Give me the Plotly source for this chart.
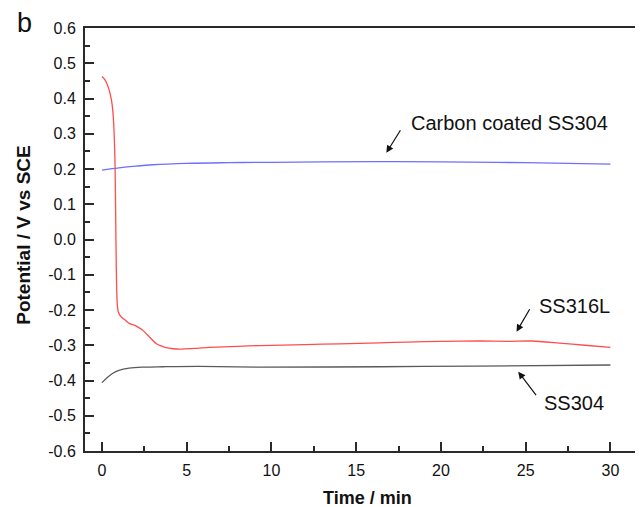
import plotly.graph_objects as go

# --- data ---
t_ss316l = [0, 0.1, 0.25, 0.4, 0.56, 0.65, 0.72, 0.77, 0.8, 0.83, 0.86, 0.9, 0.96, 1.12, 1.35, 1.6, 2.0,
            2.39, 2.79, 3.19, 3.5, 3.78, 4.2, 4.56, 5.5, 6.34, 8.0, 9.29, 12.0, 14.0, 16.4, 18.0, 20.0,
            22.3, 24.0, 25.4, 27.0, 28.5, 30.0]
e_ss316l = [0.462, 0.458, 0.447, 0.428, 0.396, 0.36, 0.30, 0.22, 0.11, -0.02, -0.12, -0.18, -0.205,
            -0.219, -0.228, -0.238, -0.245, -0.257, -0.276, -0.295, -0.302, -0.307, -0.310, -0.311,
            -0.309, -0.306, -0.303, -0.301, -0.298, -0.296, -0.293, -0.291, -0.289, -0.288, -0.289,
            -0.288, -0.294, -0.300, -0.306]

t_ss304 = [0, 0.3, 0.62, 1.0, 1.6, 2.5, 3.58, 5.74, 9.3, 16.4, 22, 30]
e_ss304 = [-0.406, -0.392, -0.380, -0.371, -0.365, -0.362, -0.361, -0.360, -0.362, -0.361, -0.359, -0.356]

t_carbon = [0, 1, 2, 3, 5, 7.5, 10, 13, 16.4, 20, 25, 30]
e_carbon = [0.197, 0.203, 0.208, 0.212, 0.216, 0.218, 0.219, 0.220, 0.221, 0.220, 0.218, 0.214]

x_ticks = [0, 5, 10, 15, 20, 25, 30]
y_ticks = [-0.6, -0.5, -0.4, -0.3, -0.2, -0.1, 0.0, 0.1, 0.2, 0.3, 0.4, 0.5, 0.6]
y_tick_labels = ["-0.6", "-0.5", "-0.4", "-0.3", "-0.2", "-0.1", "0.0", "0.1", "0.2", "0.3", "0.4", "0.5", "0.6"]

FONT = "Liberation Sans, Arial, Helvetica, sans-serif"
AXC = "#2a2a2a"

fig = go.Figure()
fig.add_trace(go.Scatter(x=t_ss304, y=e_ss304, mode="lines", line=dict(color="#5a5a5a", width=1.3, shape="spline"),
                         showlegend=False))
fig.add_trace(go.Scatter(x=t_ss316l, y=e_ss316l, mode="lines", line=dict(color="#ff4d4d", width=1.3, shape="spline", smoothing=0.6),
                         showlegend=False))
fig.add_trace(go.Scatter(x=t_carbon, y=e_carbon, mode="lines", line=dict(color="#6f6fff", width=1.3, shape="spline"),
                         showlegend=False))

# annotations with arrows
arrow_specs = [
    (16.78, 0.246, 15, -24),
    (24.46, -0.2616, 14, -24),
    (24.56, -0.375, 19, 25),
]
for hx, hy, ax, ay in arrow_specs:
    fig.add_annotation(x=hx, y=hy, ax=ax, ay=ay, axref="pixel", ayref="pixel", text="",
                       showarrow=True, arrowhead=2, arrowsize=1.2, arrowwidth=1.2, arrowcolor="#111")

labels = [
    (18.1, 0.330, "Carbon coated SS304"),
    (25.66, -0.189, "SS316L"),
    (25.96, -0.464, "SS304"),
]
for lx, ly, txt in labels:
    fig.add_annotation(x=lx, y=ly, text=txt, showarrow=False, xanchor="left", yanchor="middle",
                       font=dict(family=FONT, size=20, color="#111"))

fig.add_annotation(x=-0.11, y=1.012, xref="paper", yref="paper", text="b", showarrow=False,
                   xanchor="center", yanchor="middle",
                   font=dict(family=FONT, size=27, color="#111"))

# axis titles
fig.add_annotation(x=15.67, y=-0.111, xref="x", yref="paper", text="<b>Time / min</b>", showarrow=False,
                   xanchor="center", yanchor="middle", font=dict(family=FONT, size=18, color="#111"))
fig.add_annotation(x=-0.111, y=0.511, xref="paper", yref="paper", text="<b>Potential / V vs SCE</b>",
                   showarrow=False, textangle=-90, xanchor="center", yanchor="middle",
                   font=dict(family=FONT, size=19, color="#111"))

fig.update_layout(
    width=627, height=499,
    margin=dict(l=77, r=0, t=20, b=56, pad=0),
    paper_bgcolor="white", plot_bgcolor="white",
    font=dict(family=FONT, color="#111"),
    xaxis=dict(range=[-1, 31.45], tickvals=x_ticks, ticks="inside", ticklen=9, tickwidth=1.5, tickcolor=AXC,
               showline=True, linecolor=AXC, linewidth=2, mirror=True, showgrid=False, zeroline=False,
               tickfont=dict(size=16), ticklabelstandoff=4, automargin=False,
               minor=dict(dtick=2.5, tick0=0, ticks="inside", ticklen=5, tickwidth=1.5, tickcolor=AXC, showgrid=False)),
    yaxis=dict(range=[-0.6, 0.6], tickvals=y_ticks, ticktext=y_tick_labels, ticks="inside", ticklen=9,
               tickwidth=1.5, tickcolor=AXC, showline=True, linecolor=AXC, linewidth=2, mirror=False,
               showgrid=False, zeroline=False, tickfont=dict(size=16), ticklabelstandoff=4, automargin=False,
               minor=dict(dtick=0.05, tick0=0, ticks="inside", ticklen=5, tickwidth=1.5, tickcolor=AXC, showgrid=False)),
)

fig.write_html("out.html")
